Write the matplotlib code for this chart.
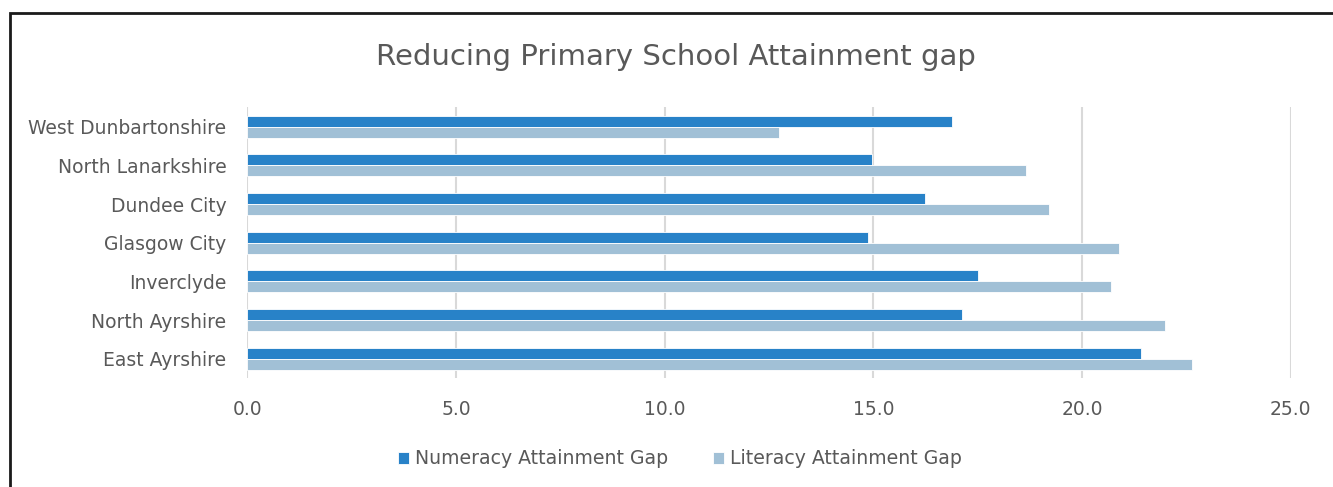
import numpy as np
import matplotlib.pyplot as plt
from matplotlib.patches import Rectangle

# Data
councils = ['West Dunbartonshire', 'North Lanarkshire', 'Dundee City', 'Glasgow City',
            'Inverclyde', 'North Ayrshire', 'East Ayrshire']
numeracy = [16.89, 14.97, 16.24, 14.88, 17.51, 17.13, 21.42]
literacy = [12.75, 18.66, 19.20, 20.88, 20.69, 21.99, 22.63]
xticks = [0, 5, 10, 15, 20, 25]

col_num = '#2882c8'
col_lit = '#a1c0d6'
txt = '#595959'
plt.rcParams['font.family'] = ['DejaVu Sans']

fig = plt.figure(figsize=(13.33, 4.87), dpi=100)
ax = fig.add_axes([0.1855, 0.2238, 0.7828, 0.5555])

y = np.arange(len(councils))
h = 0.285
ax.barh(y - h / 2, numeracy, height=h, color=col_num, edgecolor='white', linewidth=0.6,
        label='Numeracy Attainment Gap', zorder=3)
ax.barh(y + h / 2, literacy, height=h, color=col_lit, edgecolor='white', linewidth=0.6,
        label='Literacy Attainment Gap', zorder=3)

ax.set_xlim(0, 25)
ax.set_ylim(len(councils) - 0.5, -0.5)
ax.set_yticks(y)
ax.set_yticklabels(councils, fontsize=13.5, color=txt)
ax.set_xticks(xticks)
ax.set_xticklabels([f'{v:.1f}' for v in xticks], fontsize=13.5, color=txt)
ax.tick_params(length=0)
ax.tick_params(axis='y', pad=15)
ax.tick_params(axis='x', pad=16)
ax.grid(axis='x', color='#d9d9d9', linewidth=1.5, zorder=0)
for s in ax.spines.values():
    s.set_visible(False)

fig.text(0.507, 0.883, 'Reducing Primary School Attainment gap', ha='center', va='center',
         fontsize=21, color=txt)

leg = fig.legend(loc='center', bbox_to_anchor=(0.510, 0.058), ncol=2, frameon=False,
                 fontsize=13.6, handlelength=0.6, handleheight=0.6, handletextpad=0.3,
                 columnspacing=2.4)
for t in leg.get_texts():
    t.set_color(txt)

# outer frame (clipped on right and bottom like the screenshot)
fig.patches.append(Rectangle((10 / 1333, -0.1), 1.2, 1 - 13 / 487 + 0.1,
                             transform=fig.transFigure, fill=False,
                             edgecolor='#1a1a1a', linewidth=2))

fig.savefig('out.png', dpi=100)
